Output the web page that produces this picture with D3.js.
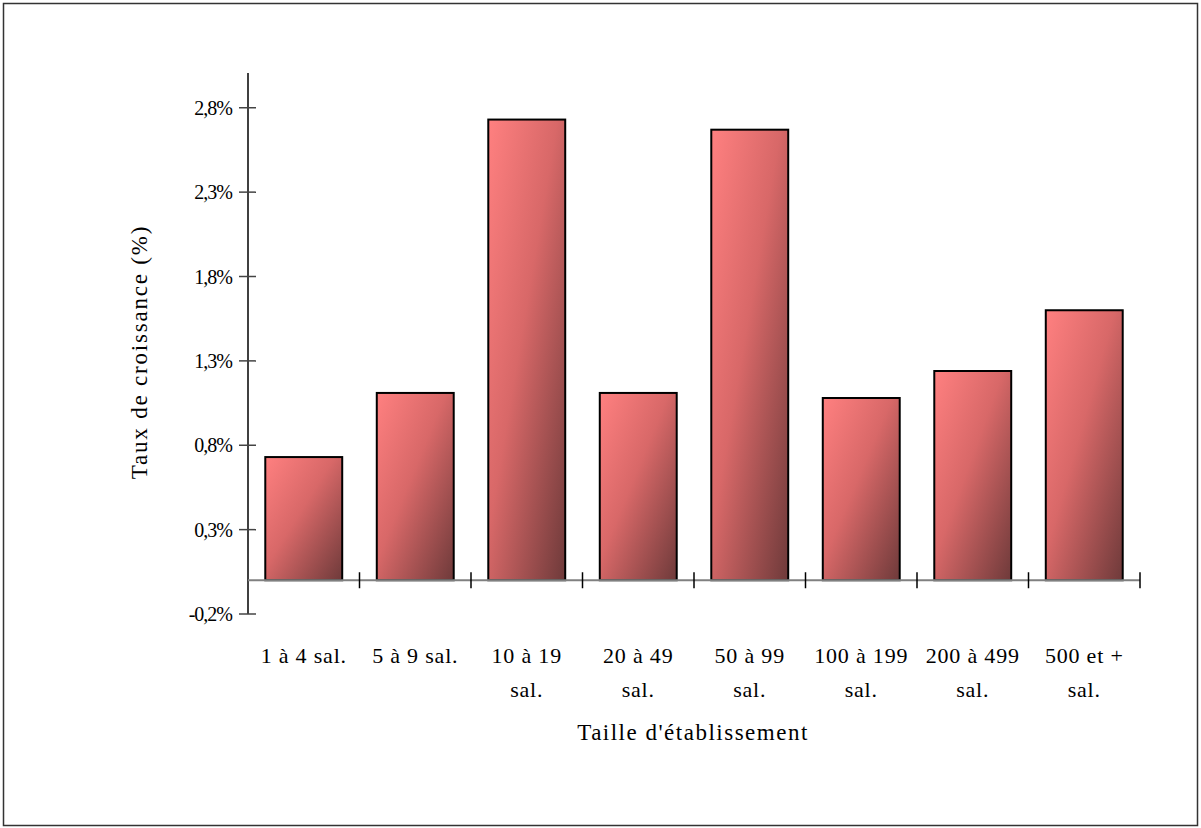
<!DOCTYPE html>
<html>
<head>
<meta charset="utf-8">
<script src="https://cdn.jsdelivr.net/npm/d3@7"></script>
<style>
  html, body { margin: 0; padding: 0; background: #fff; }
  svg { display: block; }
  text { font-family: "Liberation Serif", "Times New Roman", serif; fill: #000; }
</style>
</head>
<body>
<script>
// Growth rate by establishment size
const categories = [
  ["1 à 4 sal."],
  ["5 à 9 sal."],
  ["10 à 19", "sal."],
  ["20 à 49", "sal."],
  ["50 à 99", "sal."],
  ["100 à 199", "sal."],
  ["200 à 499", "sal."],
  ["500 et +", "sal."]
];
const values = [0.73, 1.11, 2.73, 1.11, 2.67, 1.08, 1.24, 1.60];
const yTicks = [-0.2, 0.3, 0.8, 1.3, 1.8, 2.3, 2.8];
const yDomain = [-0.2, 3.0];
const xTitle = "Taille d'établissement";
const yTitle = "Taux de croissance (%)";

const W = 1201, H = 828;
const plot = { left: 248, right: 1140, top: 74, bottom: 614 };

const svg = d3.select("body").append("svg")
  .attr("width", W).attr("height", H);

// Outer frame
svg.append("rect")
  .attr("x", 3.5).attr("y", 3.5)
  .attr("width", 1194).attr("height", 822)
  .attr("fill", "#fff").attr("stroke", "#333").attr("stroke-width", 1.5);

// Diagonal shading used by every bar
const defs = svg.append("defs");
const grad = defs.append("linearGradient")
  .attr("id", "barFill")
  .attr("x1", 0).attr("y1", 0).attr("x2", 1).attr("y2", 1);
grad.append("stop").attr("offset", "0%").attr("stop-color", "#ff8080");
grad.append("stop").attr("offset", "45%").attr("stop-color", "#d86868");
grad.append("stop").attr("offset", "100%").attr("stop-color", "#6e3a3a");

const x = d3.scaleBand()
  .domain(d3.range(categories.length))
  .range([plot.left, plot.right])
  .paddingInner(0.31)
  .paddingOuter(0.155);

const y = d3.scaleLinear().domain(yDomain).range([plot.bottom, plot.top]);

const fmt = v => d3.format(".1f")(v).replace(".", ",").replace("−", "-") + "%";

// Y axis
const yAxis = svg.append("g").attr("transform", `translate(${plot.left},0)`);
yAxis.append("line")
  .attr("x1", 0).attr("x2", 0)
  .attr("y1", plot.top - 1).attr("y2", plot.bottom)
  .attr("stroke", "#000").attr("stroke-width", 1.5);
yAxis.selectAll("line.tick").data(yTicks).join("line")
  .attr("class", "tick")
  .attr("x1", -9).attr("x2", 8)
  .attr("y1", d => y(d)).attr("y2", d => y(d))
  .attr("stroke", "#444").attr("stroke-width", 1.5);
yAxis.selectAll("text").data(yTicks).join("text")
  .attr("x", -16).attr("y", d => y(d))
  .attr("dy", "0.35em")
  .attr("text-anchor", "end")
  .attr("font-size", 20)
  .attr("letter-spacing", -1)
  .text(fmt);

// Bars
svg.append("g").selectAll("rect").data(values).join("rect")
  .attr("x", (d, i) => x(i))
  .attr("width", x.bandwidth())
  .attr("y", d => y(Math.max(0, d)))
  .attr("height", d => Math.abs(y(d) - y(0)))
  .attr("fill", "url(#barFill)")
  .attr("stroke", "#000").attr("stroke-width", 2);

// X axis at zero
const y0 = y(0);
svg.append("line")
  .attr("x1", plot.left).attr("x2", plot.right)
  .attr("y1", y0).attr("y2", y0)
  .attr("stroke", "#808080").attr("stroke-width", 2);
const bounds = d3.range(categories.length + 1).map(i => plot.left + i * x.step());
svg.append("g").selectAll("line").data(bounds.slice(1)).join("line")
  .attr("x1", d => d).attr("x2", d => d)
  .attr("y1", y0 - 8).attr("y2", y0 + 8)
  .attr("stroke", "#000").attr("stroke-width", 1.5);

// Category labels
const catG = svg.append("g");
categories.forEach((lines, i) => {
  const cx = x(i) + x.bandwidth() / 2;
  const t = catG.append("text")
    .attr("x", cx).attr("y", 663)
    .attr("text-anchor", "middle")
    .attr("font-size", 22)
    .attr("letter-spacing", 0.8);
  lines.forEach((ln, j) => {
    t.append("tspan").attr("x", cx).attr("dy", j === 0 ? 0 : 34).text(ln);
  });
});

// Axis titles
svg.append("text")
  .attr("x", (plot.left + plot.right) / 2 - 1).attr("y", 740)
  .attr("text-anchor", "middle")
  .attr("font-size", 23)
  .attr("letter-spacing", 1.5)
  .text(xTitle);

svg.append("text")
  .attr("transform", `translate(147,${352}) rotate(-90)`)
  .attr("text-anchor", "middle")
  .attr("font-size", 23)
  .attr("letter-spacing", 1.8)
  .text(yTitle);
</script>
</body>
</html>
